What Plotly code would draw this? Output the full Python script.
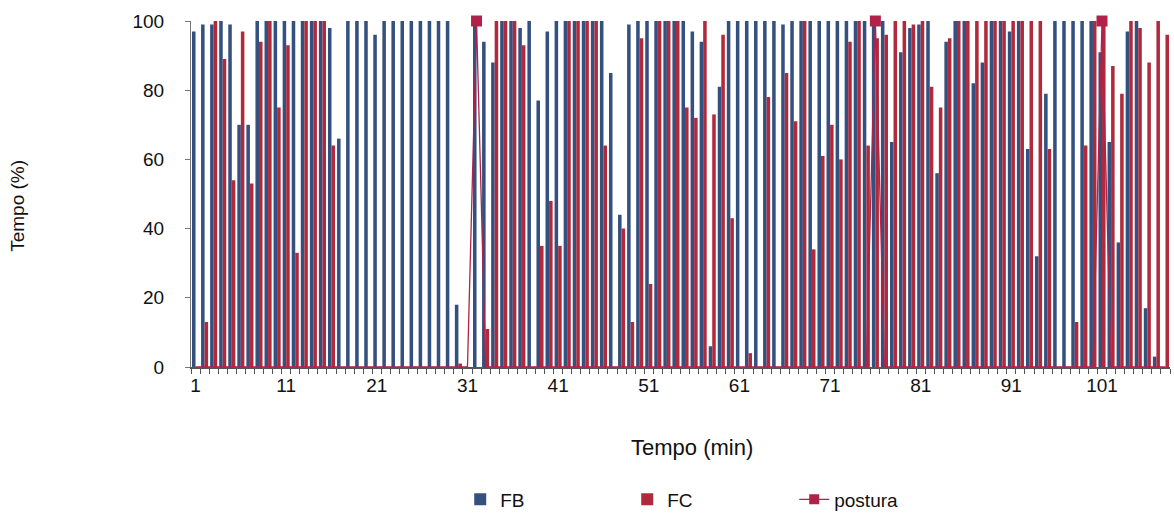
import plotly.graph_objects as go

minutes = list(range(1, 109))

fb = [97, 99, 99, 100, 99, 70, 70, 100, 100, 100, 100, 100,
      100, 100, 100, 98, 66, 100, 100, 100, 96, 100, 100, 100,
      100, 100, 100, 100, 100, 18, 0, 100, 94, 88, 100, 100,
      98, 100, 77, 97, 100, 100, 100, 100, 100, 100, 85, 44,
      99, 100, 100, 100, 100, 100, 100, 97, 94, 6, 81, 100,
      100, 100, 100, 100, 100, 99, 100, 100, 100, 100, 100, 100,
      100, 100, 100, 100, 100, 65, 91, 98, 99, 100, 56, 94,
      100, 100, 82, 88, 100, 100, 97, 100, 63, 32, 79, 100,
      100, 100, 100, 100, 91, 65, 36, 97, 100, 17, 3, 0]

fc = [0, 13, 100, 89, 54, 97, 53, 94, 100, 75, 93, 33,
      100, 100, 100, 64, 0, 0, 0, 0, 0, 0, 0, 0,
      0, 0, 0, 0, 0, 1, 0, 0, 11, 100, 100, 100,
      93, 0, 35, 48, 35, 100, 100, 100, 100, 64, 0, 40,
      13, 95, 24, 100, 100, 100, 75, 72, 100, 73, 96, 43,
      0, 4, 0, 78, 0, 85, 71, 100, 34, 61, 70, 60,
      94, 100, 64, 95, 96, 100, 100, 99, 100, 81, 75, 95,
      100, 100, 100, 100, 100, 100, 100, 100, 100, 100, 63, 0,
      0, 13, 64, 100, 100, 87, 79, 100, 98, 88, 100, 96]

postura = [0] * 108
for m in (32, 76, 101):
    postura[m - 1] = 100

tick_labels = [str(m) if (m - 1) % 10 == 0 else "" for m in minutes]

BLUE = "#34507F"
RED = "#B02A3B"
LINE = "#B0224A"
FONT = "Liberation Sans"

cats = [str(m) for m in minutes]

fig = go.Figure()
fig.add_trace(go.Bar(x=cats, y=fb, name="FB", marker=dict(color=BLUE, line=dict(width=0))))
fig.add_trace(go.Bar(x=cats, y=fc, name="FC", marker=dict(color=RED, line=dict(width=0))))
fig.add_trace(go.Scatter(x=cats, y=postura, mode="lines", line=dict(color=LINE, width=1.3),
                         showlegend=False, cliponaxis=False, hoverinfo="skip"))
mk_x = [c for c, v in zip(cats, postura) if v > 0]
mk_y = [v for v in postura if v > 0]
fig.add_trace(go.Scatter(x=mk_x, y=mk_y, mode="markers", showlegend=False, cliponaxis=False,
                         marker=dict(symbol="square", size=11, color=LINE)))
fig.add_trace(go.Scatter(x=[None], y=[None], mode="lines+markers", name="postura",
                         line=dict(color=LINE, width=1.3),
                         marker=dict(symbol="square", size=10, color=LINE)))

fig.update_layout(
    width=1174, height=522,
    margin=dict(l=191, r=4, t=21, b=151),
    paper_bgcolor="white", plot_bgcolor="white",
    barmode="group", bargap=0.22, bargroupgap=0,
    font=dict(family=FONT, size=18, color="#111111"),
    showlegend=True,
    legend=dict(orientation="h", x=0.275, y=-0.383, xanchor="left", yanchor="middle",
                font=dict(size=19), entrywidth=122, entrywidthmode="pixels",
                bgcolor="rgba(0,0,0,0)"),
    annotations=[
        dict(text="Tempo (min)", x=0.512, y=-0.234, xref="paper", yref="paper",
             showarrow=False, font=dict(size=22), xanchor="center", yanchor="middle"),
        dict(text="Tempo (%)", x=-0.1767, y=0.466, xref="paper", yref="paper",
             showarrow=False, font=dict(size=19), textangle=-90,
             xanchor="center", yanchor="middle"),
    ],
)

fig.update_xaxes(
    type="category", tickmode="array", tickvals=cats, ticktext=tick_labels,
    tickson="boundaries", ticks="outside", ticklen=5, tickcolor="#555555",
    showline=True, linecolor="#555555", linewidth=1.5, showgrid=False,
    tickangle=0, layer="above traces", tickfont=dict(size=19),
)
fig.update_yaxes(
    range=[0, 100], tickvals=[0, 20, 40, 60, 80, 100],
    ticks="outside", ticklen=5, tickcolor="#777777",
    showline=True, linecolor="#777777", linewidth=1, showgrid=False,
    zeroline=False, ticklabelstandoff=17, tickfont=dict(size=19),
)

fig.write_html("out.html")
